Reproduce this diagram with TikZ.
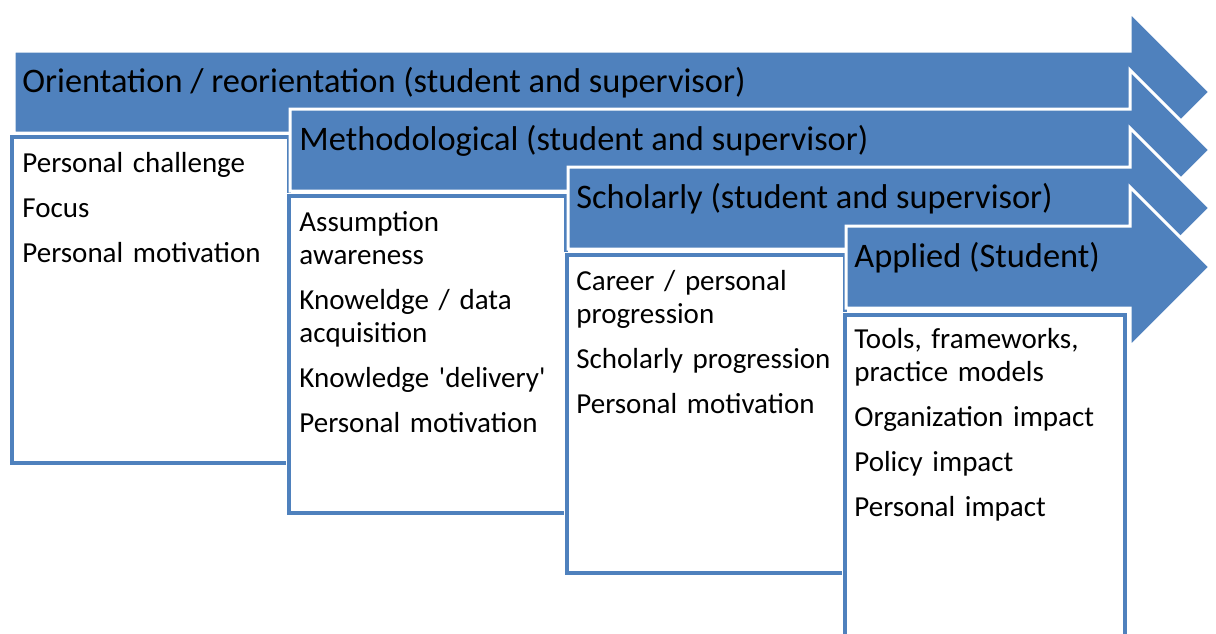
\documentclass[tikz,border=0pt]{standalone}
\usepackage{fontspec}
\setmainfont{Carlito}
\usepackage{tikz}
\usetikzlibrary{fit,positioning}
\definecolor{stageblue}{HTML}{4F81BD}
\newcommand{\stagearrow}[2]{%
  \path[fill=stageblue, draw=white, line width=1.5pt, line join=miter]
    (#1,#2-41) -- (1130,#2-41) -- (1130,#2-80) -- (1210,#2)
    -- (1130,#2+80) -- (1130,#2+41) -- (#1,#2+41) -- cycle;}
\tikzset{
  stagebox/.style={draw=stageblue, line width=2pt, fill=white, inner sep=0pt, outer sep=0pt,
    preaction={draw=white, line width=3.5pt}},
  stagetitle/.style={anchor=base west, inner sep=0pt, font=\fontsize{17.2}{20}\selectfont},
  itemlist/.style={anchor=north west, inner sep=0pt, text width=135pt, align=left,
    font=\fontsize{14.5}{16.5}\selectfont}
}

\begin{document}
\begin{tikzpicture}[x=0.5pt, y=-0.5pt]
\useasboundingbox (0,0) rectangle (1216,633);
\clip (0,0) rectangle (1216,633);

\stagearrow{14}{92}
\node[stagetitle] (orient) at (22,92) {Orientation / reorientation (student and supervisor)};
\node[stagebox, fit={(12,137) (289,463)}] (orientbox) {};
\node[itemlist] (orientlist) at ([shift={(10,15)}]orientbox.north west)
  {Personal challenge\\[6pt] Focus\\[6pt] Personal motivation};

\stagearrow{290}{150}
\node[stagetitle] (method) at (299,150) {Methodological (student and supervisor)};
\node[stagebox, fit={(289,196) (566,513)}] (methodbox) {};
\node[itemlist] (methodlist) at ([shift={(10,15)}]methodbox.north west)
  {Assumption\\ awareness\\[6pt] Knoweldge / data\\ acquisition\\[6pt]
   Knowledge \textquotesingle delivery\textquotesingle\\[6pt] Personal motivation};

\stagearrow{568}{208}
\node[stagetitle] (scholar) at (576,208) {Scholarly (student and supervisor)};
\node[stagebox, fit={(567,255) (845,573)}] (scholarbox) {};
\node[itemlist] (scholarlist) at ([shift={(9,15)}]scholarbox.north west)
  {Career / personal\\ progression\\[6pt] Scholarly progression\\[6pt] Personal motivation};

\stagearrow{846}{267}
\node[stagetitle] (applied) at (854,267) {Applied (Student)};
\node[stagebox, fit={(845,315) (1125,660)}] (appliedbox) {};
\node[itemlist] (appliedlist) at ([shift={(9,13)}]appliedbox.north west)
  {Tools, frameworks,\\ practice models\\[6pt] Organization impact\\[6pt] Policy impact\\[6pt] Personal impact};
\end{tikzpicture}
\end{document}
